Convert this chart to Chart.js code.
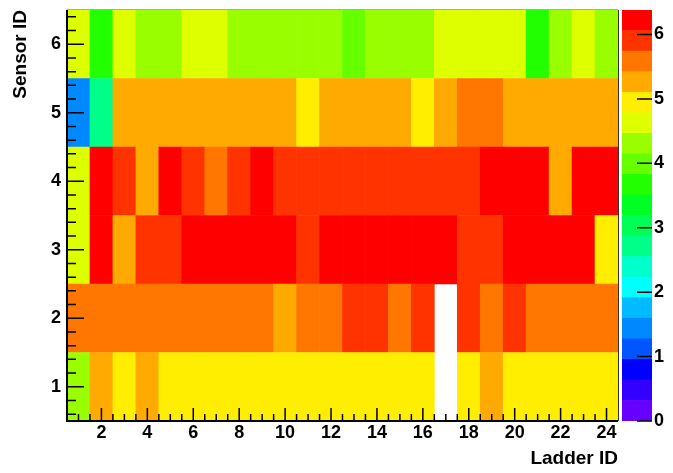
<!DOCTYPE html>
<html>
<head>
<meta charset="utf-8">
<script src="https://cdn.jsdelivr.net/npm/chart.js@4.4.1/dist/chart.umd.min.js"></script>
<style>
  body { margin: 0; background: #fff; }
  #wrap { position: relative; width: 673px; height: 473px; }
  #heat { position: absolute; left: 0; top: 0; }
  #zbar { position: absolute; left: 622px; top: 0; }
</style>
</head>
<body>
<div id="wrap">
  <canvas id="heat" width="673" height="473"></canvas>
  <canvas id="zbar" width="51" height="473"></canvas>
</div>
<script>
var ladders = [1, 2, 3, 4, 5, 6, 7, 8, 9, 10, 11, 12, 13, 14, 15, 16, 17, 18, 19, 20, 21, 22, 23, 24];
var sensors = [1, 2, 3, 4, 5, 6];

// cell values per sensor, ladder 1..24 (0 = empty bin)
var sensor1 = [4.32, 5.26, 4.95, 5.28, 4.96, 4.93, 4.97, 4.95, 4.94, 4.98, 4.96, 4.92, 4.95, 4.97, 4.94, 4.96, 0, 4.95, 5.27, 4.96, 4.93, 4.97, 4.95, 4.94];
var sensor2 = [5.60, 5.58, 5.62, 5.57, 5.61, 5.59, 5.63, 5.60, 5.58, 5.27, 5.61, 5.59, 5.91, 5.94, 5.60, 5.92, 0, 5.89, 5.62, 5.90, 5.58, 5.61, 5.60, 5.63];
var sensor3 = [4.63, 6.26, 5.25, 5.90, 5.92, 6.22, 6.30, 6.24, 6.27, 6.21, 5.91, 6.25, 6.38, 6.28, 6.23, 6.26, 6.29, 5.93, 5.89, 6.24, 6.20, 6.27, 6.22, 4.97];
var sensor4 = [4.61, 6.21, 5.92, 5.26, 6.24, 5.90, 5.60, 5.88, 6.19, 5.91, 5.93, 5.89, 5.92, 5.90, 5.94, 5.91, 5.88, 5.95, 6.22, 6.25, 6.20, 5.27, 6.23, 6.18];
var sensor5 = [1.44, 2.72, 5.28, 5.25, 5.31, 5.22, 5.27, 5.30, 5.24, 5.26, 4.96, 5.27, 5.25, 5.29, 5.23, 4.94, 5.26, 5.61, 5.58, 5.27, 5.24, 5.30, 5.26, 5.28];
var sensor6 = [4.62, 3.68, 4.64, 4.30, 4.28, 4.60, 4.63, 4.31, 4.29, 4.33, 4.30, 4.27, 3.98, 4.30, 4.32, 4.29, 4.61, 4.65, 4.62, 4.59, 3.70, 4.31, 4.63, 4.34];

var xTicks = [2, 4, 6, 8, 10, 12, 14, 16, 18, 20, 22, 24];
var yTicks = [1, 2, 3, 4, 5, 6];
var zTicks = [0, 1, 2, 3, 4, 5, 6];

// ROOT-like rainbow, 20 contour bands from low to high
var palette = ['#6600ff', '#3300ff', '#0000ff', '#0055ff', '#0088ff', '#00bbff', '#00ffff', '#00ffcc', '#00ff88', '#00ff55',
               '#00ff22', '#22ff00', '#66ff00', '#99ff00', '#ddff00', '#ffee00', '#ffaa00', '#ff7700', '#ff3300', '#ff0000'];

var rows = [sensor1, sensor2, sensor3, sensor4, sensor5, sensor6];
var zMax = Math.max.apply(null, [].concat.apply([], rows));
var band = zMax / palette.length;

function colorFor(v) {
  var k = Math.min(palette.length - 1, Math.floor(v / band));
  return palette[k];
}

Chart.defaults.color = '#000';
Chart.defaults.font.family = '"Liberation Sans", Arial, sans-serif';
var tickFont = { family: '"Liberation Sans", Arial, sans-serif', weight: 'bold', size: 18 };
var titleFont = { family: '"Liberation Sans", Arial, sans-serif', weight: 'bold', size: 19 };

var datasets = sensors.map(function (s, j) {
  var cells = [];
  rows[j].forEach(function (v, i) {
    if (v > 0) cells.push({ x: ladders[i], y: [s - 0.5, s + 0.5], v: v });
  });
  return {
    label: 'Sensor ' + s,
    data: cells,
    backgroundColor: function (c) { return c.raw ? colorFor(c.raw.v) : 'transparent'; },
    borderWidth: 0,
    barPercentage: 1,
    categoryPercentage: 1,
    grouped: false
  };
});

// ROOT draws ticks inside the frame
var frameTicks = {
  id: 'frameTicks',
  afterDatasetsDraw: function (chart) {
    var ctx = chart.ctx, a = chart.chartArea, xs = chart.scales.x, ys = chart.scales.y;
    var v, k, px, len;
    ctx.save();
    ctx.lineWidth = 1;
    ctx.strokeStyle = '#aaaaaa';
    ctx.beginPath(); ctx.moveTo(a.left, a.top - 0.5); ctx.lineTo(a.right, a.top - 0.5); ctx.stroke();
    ctx.strokeStyle = '#333333';
    ctx.beginPath(); ctx.moveTo(a.right + 0.5, a.top); ctx.lineTo(a.right + 0.5, a.bottom); ctx.stroke();
    ctx.strokeStyle = '#000';
    ctx.lineWidth = 2;
    ctx.beginPath();
    ctx.moveTo(a.left, a.top); ctx.lineTo(a.left, a.bottom); ctx.lineTo(a.right, a.bottom);
    ctx.stroke();
    ctx.lineWidth = 1.5;
    ctx.beginPath();
    for (k = 2; k <= 48; k++) {
      v = k / 2;
      px = xs.getPixelForValue(v);
      len = xTicks.indexOf(v) >= 0 ? 13 : 7;
      ctx.moveTo(px, a.bottom); ctx.lineTo(px, a.bottom - len);
    }
    for (k = 3; k <= 32; k++) {
      v = k / 5;
      px = ys.getPixelForValue(v);
      len = (k % 5 === 0) ? 17 : 9;
      ctx.moveTo(a.left, px); ctx.lineTo(a.left + len, px);
    }
    ctx.stroke();
    ctx.restore();
  }
};

new Chart('heat', {
  type: 'bar',
  data: { datasets: datasets },
  options: {
    responsive: false,
    animation: false,
    layout: { padding: { top: 10, right: 55, left: 0, bottom: 0 } },
    plugins: { legend: { display: false }, tooltip: { enabled: false } },
    scales: {
      x: {
        type: 'linear', min: 0.5, max: 24.5, offset: false,
        afterBuildTicks: function (s) { s.ticks = xTicks.map(function (v) { return { value: v }; }); },
        afterFit: function (s) { s.height = 52; s.paddingLeft = 0; s.paddingRight = 0; },
        grid: { display: false, drawTicks: false }, border: { display: false },
        ticks: { font: tickFont, padding: 1, maxRotation: 0, autoSkip: false },
        title: { display: true, text: 'Ladder ID', align: 'end', font: titleFont, padding: { top: 0, bottom: 3 } }
      },
      y: {
        type: 'linear', min: 0.5, max: 6.5,
        afterBuildTicks: function (s) { s.ticks = yTicks.map(function (v) { return { value: v }; }); },
        afterFit: function (s) { s.width = 67; s.paddingTop = 0; s.paddingBottom = 0; },
        grid: { display: false, drawTicks: false }, border: { display: false },
        ticks: { font: tickFont, padding: 6 },
        title: { display: true, text: 'Sensor ID', align: 'end', font: titleFont, padding: { top: 9, bottom: 0 } }
      }
    }
  },
  plugins: [frameTicks]
});

var zBarTicks = {
  id: 'zBarTicks',
  afterDatasetsDraw: function (chart) {
    var ctx = chart.ctx, a = chart.chartArea, zs = chart.scales.y;
    ctx.save();
    ctx.strokeStyle = '#000';
    ctx.lineWidth = 1.5;
    ctx.beginPath();
    zTicks.forEach(function (v) {
      var py = zs.getPixelForValue(v);
      ctx.moveTo(a.right, py); ctx.lineTo(a.right - 15, py);
    });
    ctx.stroke();
    ctx.restore();
  }
};

new Chart('zbar', {
  type: 'bar',
  data: {
    labels: ['z'],
    datasets: palette.map(function (c) {
      return { data: [band], backgroundColor: c, borderWidth: 0, barPercentage: 1, categoryPercentage: 1 };
    })
  },
  options: {
    responsive: false,
    animation: false,
    layout: { padding: { top: 10, bottom: 52, left: 0, right: 0 } },
    plugins: { legend: { display: false }, tooltip: { enabled: false } },
    scales: {
      x: { display: false, stacked: true },
      y: {
        stacked: true, position: 'right', min: 0, max: zMax,
        afterBuildTicks: function (s) { s.ticks = zTicks.map(function (v) { return { value: v }; }); },
        afterFit: function (s) { s.width = 21; s.paddingTop = 0; s.paddingBottom = 0; },
        grid: { display: false, drawTicks: false }, border: { display: false },
        ticks: { font: tickFont, padding: 2 }
      }
    }
  },
  plugins: [zBarTicks]
});
</script>
</body>
</html>
